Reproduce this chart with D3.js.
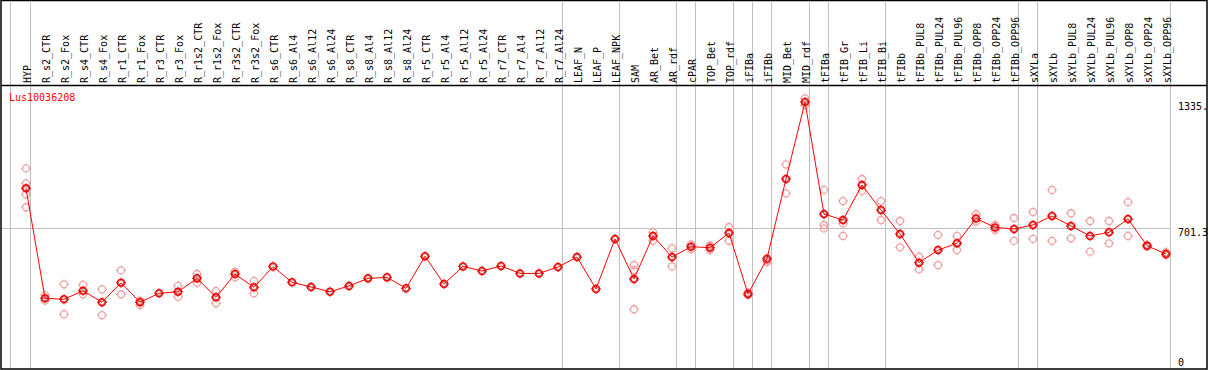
<!DOCTYPE html>
<html>
<head>
    <script src="https://d3js.org/d3.v7.min.js"></script>
    <style>
        body { margin: 0; background: #fff; }
        text { font-family: "DejaVu Sans Mono", monospace; font-size: 10px; }
    </style>
</head>
<body>
    <svg width="1209" height="370"></svg>
    <script>
        var svg = d3.select("svg"),
            width = +svg.attr("width"),
            height = +svg.attr("height");

        // data
        var gene = "Lus10036208";

        var categories = ["HYP","R_s2_CTR","R_s2_Fox","R_s4_CTR","R_s4_Fox","R_r1_CTR","R_r1_Fox",
            "R_r3_CTR","R_r3_Fox","R_r1s2_CTR","R_r1s2_Fox","R_r3s2_CTR","R_r3s2_Fox",
            "R_s6_CTR","R_s6_Al4","R_s6_Al12","R_s6_Al24","R_s8_CTR","R_s8_Al4","R_s8_Al12","R_s8_Al24",
            "R_r5_CTR","R_r5_Al4","R_r5_Al12","R_r5_Al24","R_r7_CTR","R_r7_Al4","R_r7_Al12","R_r7_Al24",
            "LEAF_N","LEAF_P","LEAF_NPK","SAM","AR_Bet","AR_rdf","cPAR","TOP_Bet","TOP_rdf",
            "iFIBa","iFIBb","MID_Bet","MID_rdf","tFIBa","tFIB_Gr","tFIB_Li","tFIB_Bi","tFIBb",
            "tFIBb_PUL8","tFIBb_PUL24","tFIBb_PUL96","tFIBb_OPP8","tFIBb_OPP24","tFIBb_OPP96",
            "sXYLa","sXYLb","sXYLb_PUL8","sXYLb_PUL24","sXYLb_PUL96","sXYLb_OPP8","sXYLb_OPP24","sXYLb_OPP96"];

        var means = [902,350,345,388,330,428,330,375,383,450,355,472,405,
            509,430,407,383,412,450,455,400,561,422,510,487,512,475,475,507,
            557,397,648,447,663,557,609,604,678,371,549,949,1335,
            773,743,919,793,673,529,592,626,751,706,698,
            718,763,713,663,681,748,614,572];

        var replicates = [[1002,927,872,807],[366,338],[420,270],[417,370],[395,265],[490,370],[338,316],
            [],[412,358],[472,428],[387,325],[483,455],[437,375],
            [],[],[],[],[],[],[],[],[],[],[],[],[],[],[],[],
            [],[],[],[517,492,295],[681,639],[601,510],[621,596],[615,592],[708,639],
            [379,366],[540,532],[1022,877],[1354,1320],
            [894,718,701],[838,726,663],[949,889],[838,743],[738,606],
            [559,495],[668,517],[663,592],[772,735],[718,693],[753,638],
            [783,648],[894,638],[777,651],[738,584],[738,626],[833,663],[617,610],[582,567]];

        // last sample of each group gets a separator after it
        var groupEnds = ["HYP","R_r7_Al24","LEAF_NPK","AR_rdf","cPAR","TOP_rdf","iFIBa","iFIBb",
            "MID_rdf","tFIBa","tFIB_Bi","tFIBb_OPP96","sXYLa","sXYLb_OPP96"];

        var yTicks = [0, 701.3, 1335];
        var yTickLabels = ["0", "701.3", "1335."];

        var x = d3.scalePoint().domain(categories).range([26, 1166]);
        var y = d3.scaleLinear().domain([0, 1335]).range([368, 102.1]);

        // frame
        svg.append("rect")
           .attr("x", 1).attr("y", 0.5)
           .attr("width", 1206).attr("height", 368.5)
           .attr("fill", "#fff").attr("stroke", "#000").attr("stroke-width", 1.5);

        // vertical group separators
        var sepX = [10.5].concat(groupEnds.map(function(c) { return Math.round(x(c) + 4) + 0.5; }));
        svg.selectAll(".sep").data(sepX).enter().append("line")
           .attr("x1", function(d) { return d; }).attr("x2", function(d) { return d; })
           .attr("y1", 1).attr("y2", 368)
           .attr("stroke", "#c0c0c0").attr("stroke-width", 1);

        // horizontal reference line at mid tick
        svg.append("line")
           .attr("x1", 2).attr("x2", 1170.5)
           .attr("y1", Math.round(y(yTicks[1])) + 0.5).attr("y2", Math.round(y(yTicks[1])) + 0.5)
           .attr("stroke", "#c0c0c0");

        // header divider
        svg.append("line")
           .attr("x1", 1).attr("x2", 1207)
           .attr("y1", 85.5).attr("y2", 85.5)
           .attr("stroke", "#000").attr("stroke-width", 1.5);

        // rotated sample labels
        svg.selectAll(".lab").data(categories).enter().append("text")
           .attr("transform", function(d) { return "translate(" + (x(d) + 5) + ",83) rotate(-90)"; })
           .attr("fill", "#000")
           .text(function(d) { return d; });

        // y tick labels
        svg.selectAll(".yt").data(yTicks).enter().append("text")
           .attr("x", 1178)
           .attr("y", function(d, i) { return i === 0 ? y(d) - 2 : y(d) + 8; })
           .attr("fill", "#000")
           .text(function(d, i) { return yTickLabels[i]; });

        // gene name
        svg.append("text")
           .attr("x", 9).attr("y", 101)
           .attr("fill", "#ff0000")
           .text(gene);

        function marker(sel, color, w) {
            sel.append("circle").attr("r", 3.5)
               .attr("fill", "none").attr("stroke", color).attr("stroke-width", w);
            sel.append("path")
               .attr("d", "M-5,0H-4M4,0H5M0,-5V-4M0,4V5")
               .attr("stroke", color).attr("stroke-width", 1);
        }

        // replicate points
        var reps = [];
        replicates.forEach(function(r, i) {
            r.forEach(function(v) { reps.push({c: categories[i], v: v}); });
        });
        var rg = svg.selectAll(".rep").data(reps).enter().append("g")
           .attr("transform", function(d) { return "translate(" + x(d.c) + "," + y(d.v) + ")"; });
        marker(rg, "#f0a0a0", 1.3);

        // mean line
        var line = d3.line()
            .x(function(d, i) { return x(categories[i]); })
            .y(function(d) { return y(d); });
        svg.append("path")
           .attr("d", line(means))
           .attr("fill", "none").attr("stroke", "#ff0000").attr("stroke-width", 1);

        // mean points
        var mg = svg.selectAll(".mean").data(means).enter().append("g")
           .attr("transform", function(d, i) { return "translate(" + x(categories[i]) + "," + y(d) + ")"; });
        marker(mg, "#ff0000", 1.5);
        mg.append("circle").attr("r", 2.5)
           .attr("fill", "none").attr("stroke", "#800000").attr("stroke-width", 0.5);
    </script>
</body>
</html>
